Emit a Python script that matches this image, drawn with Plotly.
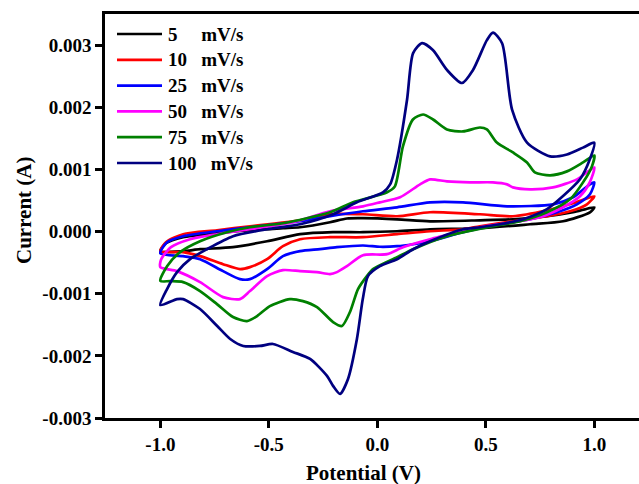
import plotly.graph_objects as go

# ---------------- data (Potential in V, Current in A) ----------------
labels = ["5\u00a0\u00a0\u00a0\u00a0\u00a0mV/s", "10\u00a0\u00a0\u00a0mV/s", "25\u00a0\u00a0\u00a0mV/s",
          "50\u00a0\u00a0\u00a0mV/s", "75\u00a0\u00a0\u00a0mV/s", "100\u00a0\u00a0\u00a0mV/s"]
colors = ["#000000", "#ff0000", "#0000ff", "#ff00ff", "#008000", "#000080"]

v_5 = [-1.0, -0.974, -0.895, -0.739, -0.587, -0.435, -0.356, -0.218, -0.140, -0.066, 0.091, 0.243, 0.473, 0.625, 0.782, 0.902, 1.0,
       0.980, 0.856, 0.704, 0.473, 0.243, 0.091, -0.066, -0.204, -0.356, -0.508, -0.665, -0.817, -0.895, -1.0]
i_5 = [-0.316e-3, -0.188e-3, -0.091e-3, -0.027e-3, 0.021e-3, 0.053e-3, 0.069e-3, 0.149e-3, 0.210e-3, 0.215e-3, 0.197e-3, 0.165e-3, 0.181e-3, 0.197e-3, 0.246e-3, 0.310e-3, 0.390e-3,
       0.310e-3, 0.165e-3, 0.117e-3, 0.053e-3, 0.037e-3, 0.005e-3, -0.011e-3, -0.011e-3, -0.043e-3, -0.156e-3, -0.252e-3, -0.284e-3, -0.316e-3, -0.316e-3]

v_10 = [-1.0, -0.974, -0.895, -0.739, -0.587, -0.356, -0.218, -0.066, 0.091, 0.243, 0.473, 0.625, 0.782, 0.902, 1.0,
        0.966, 0.888, 0.782, 0.625, 0.473, 0.395, 0.243, 0.091, -0.066, -0.218, -0.356, -0.435, -0.508, -0.587, -0.633, -0.711, -0.817, -0.895, -1.0]
i_10 = [-0.316e-3, -0.172e-3, -0.043e-3, 0.021e-3, 0.085e-3, 0.181e-3, 0.278e-3, 0.278e-3, 0.246e-3, 0.310e-3, 0.278e-3, 0.246e-3, 0.342e-3, 0.454e-3, 0.567e-3,
        0.438e-3, 0.326e-3, 0.246e-3, 0.165e-3, 0.085e-3, 0.037e-3, 0.005e-3, -0.043e-3, -0.091e-3, -0.091e-3, -0.124e-3, -0.236e-3, -0.445e-3, -0.573e-3, -0.605e-3, -0.525e-3, -0.396e-3, -0.332e-3, -0.316e-3]

v_25 = [-1.0, -0.969, -0.895, -0.739, -0.587, -0.356, -0.218, -0.066, 0.091, 0.243, 0.395, 0.598, 0.810, 0.902, 0.980, 1.0,
        0.980, 0.920, 0.828, 0.704, 0.565, 0.395, 0.243, 0.165, 0.091, 0.012, -0.066, -0.186, -0.264, -0.356, -0.435, -0.508, -0.587, -0.633, -0.711, -0.817, -0.895, -1.0]
i_25 = [-0.350e-3, -0.172e-3, -0.075e-3, 0.005e-3, 0.069e-3, 0.165e-3, 0.246e-3, 0.326e-3, 0.390e-3, 0.470e-3, 0.470e-3, 0.406e-3, 0.438e-3, 0.551e-3, 0.759e-3, 0.791e-3,
        0.599e-3, 0.438e-3, 0.310e-3, 0.197e-3, 0.117e-3, -0.011e-3, -0.156e-3, -0.204e-3, -0.236e-3, -0.245e-3, -0.225e-3, -0.252e-3, -0.284e-3, -0.316e-3, -0.396e-3, -0.605e-3, -0.766e-3, -0.766e-3, -0.637e-3, -0.445e-3, -0.396e-3, -0.350e-3]

v_50 = [-1.0, -0.996, -0.951, -0.863, -0.739, -0.587, -0.389, -0.218, -0.066, 0.012, 0.105, 0.197, 0.243, 0.321, 0.427, 0.533, 0.598, 0.625, 0.704, 0.810, 0.920, 1.0,
        0.979, 0.934, 0.856, 0.750, 0.625, 0.473, 0.395, 0.243, 0.118, 0.045, -0.066, -0.140, -0.186, -0.218, -0.278, -0.356, -0.435, -0.508, -0.587, -0.633, -0.711, -0.817, -0.923, -1.0]
i_50 = [-0.573e-3, -0.445e-3, -0.252e-3, -0.124e-3, -0.043e-3, 0.037e-3, 0.149e-3, 0.326e-3, 0.406e-3, 0.470e-3, 0.551e-3, 0.759e-3, 0.839e-3, 0.807e-3, 0.791e-3, 0.791e-3, 0.759e-3, 0.711e-3, 0.679e-3, 0.711e-3, 0.839e-3, 1.032e-3,
        0.791e-3, 0.567e-3, 0.390e-3, 0.230e-3, 0.149e-3, 0.069e-3, 0.005e-3, -0.124e-3, -0.252e-3, -0.364e-3, -0.380e-3, -0.557e-3, -0.653e-3, -0.685e-3, -0.653e-3, -0.637e-3, -0.621e-3, -0.717e-3, -0.958e-3, -1.087e-3, -1.055e-3, -0.814e-3, -0.637e-3, -0.573e-3]

v_75 = [-1.0, -0.969, -0.909, -0.817, -0.693, -0.587, -0.435, -0.218, -0.112, 0.045, 0.081, 0.118, 0.164, 0.211, 0.257, 0.321, 0.395, 0.473, 0.505, 0.551, 0.625, 0.690, 0.726, 0.796, 0.874, 0.948, 1.0,
        0.989, 0.948, 0.888, 0.782, 0.658, 0.533, 0.321, 0.165, 0.091, -0.020, -0.048, -0.089, -0.126, -0.163, -0.204, -0.278, -0.343, -0.403, -0.495, -0.554, -0.601, -0.665, -0.739, -0.817, -0.895, -0.955, -1.0]
i_75 = [-0.793e-3, -0.557e-3, -0.332e-3, -0.156e-3, -0.011e-3, 0.069e-3, 0.133e-3, 0.310e-3, 0.470e-3, 0.631e-3, 0.727e-3, 1.369e-3, 1.803e-3, 1.883e-3, 1.803e-3, 1.642e-3, 1.610e-3, 1.674e-3, 1.642e-3, 1.433e-3, 1.273e-3, 1.112e-3, 0.952e-3, 0.904e-3, 0.968e-3, 1.112e-3, 1.225e-3,
        1.048e-3, 0.791e-3, 0.518e-3, 0.310e-3, 0.165e-3, 0.085e-3, -0.075e-3, -0.284e-3, -0.413e-3, -0.605e-3, -0.717e-3, -0.926e-3, -1.295e-3, -1.520e-3, -1.456e-3, -1.215e-3, -1.119e-3, -1.087e-3, -1.199e-3, -1.360e-3, -1.440e-3, -1.376e-3, -1.167e-3, -0.958e-3, -0.814e-3, -0.798e-3, -0.793e-3]

v_100 = [-1.0, -0.969, -0.923, -0.863, -0.785, -0.665, -0.508, -0.356, -0.204, -0.094, 0.026, 0.059, 0.091, 0.137, 0.165, 0.206, 0.256, 0.321, 0.390, 0.441, 0.505, 0.533, 0.575, 0.621, 0.690, 0.796, 0.874, 0.948, 1.0,
         0.979, 0.934, 0.856, 0.782, 0.671, 0.565, 0.473, 0.395, 0.243, 0.165, 0.091, 0.012, -0.043, -0.067, -0.094, -0.135, -0.172, -0.204, -0.232, -0.310, -0.389, -0.481, -0.541, -0.618, -0.678, -0.738, -0.817, -0.895, -0.923, -1.0]
i_100 = [-1.183e-3, -0.925e-3, -0.653e-3, -0.444e-3, -0.284e-3, -0.075e-3, 0.037e-3, 0.117e-3, 0.278e-3, 0.470e-3, 0.631e-3, 0.759e-3, 1.160e-3, 2.120e-3, 2.870e-3, 3.030e-3, 2.920e-3, 2.600e-3, 2.390e-3, 2.600e-3, 3.080e-3, 3.200e-3, 3.030e-3, 1.960e-3, 1.430e-3, 1.210e-3, 1.240e-3, 1.350e-3, 1.430e-3,
         1.160e-3, 0.840e-3, 0.570e-3, 0.360e-3, 0.198e-3, 0.117e-3, 0.069e-3, 0.037e-3, -0.156e-3, -0.284e-3, -0.445e-3, -0.557e-3, -0.717e-3, -1.087e-3, -1.729e-3, -2.371e-3, -2.612e-3, -2.483e-3, -2.323e-3, -2.050e-3, -1.937e-3, -1.809e-3, -1.841e-3, -1.841e-3, -1.729e-3, -1.520e-3, -1.247e-3, -1.087e-3, -1.087e-3, -1.183e-3]

x_ticks = [-1.0, -0.5, 0.0, 0.5, 1.0]
x_ticktext = ["-1.0", "-0.5", "0.0", "0.5", "1.0"]
y_ticks = [-0.003, -0.002, -0.001, 0.0, 0.001, 0.002, 0.003]
y_ticktext = ["-0.003", "-0.002", "-0.001", "0.000", "0.001", "0.002", "0.003"]

# ---------------- figure ----------------
FONT = "Liberation Serif"
W, H = 639, 484
ML, MR, MT, MB = 105, 0, 14, 66
PW, PH = W - ML - MR, H - MT - MB

def px_x(p):  # pixel x -> paper x
    return (p - ML) / PW

def px_y(p):  # pixel y -> paper y
    return (H - MB - p) / PH

fig = go.Figure()
for lab, col, xs, ys in zip(labels, colors,
                            [v_5, v_10, v_25, v_50, v_75, v_100],
                            [i_5, i_10, i_25, i_50, i_75, i_100]):
    fig.add_trace(go.Scatter(x=xs, y=ys, mode="lines", name=lab, showlegend=False,
                             line=dict(color=col, width=2.7, shape="spline", smoothing=0.7)))

# hand-built legend (long line samples like the reference)
shapes, annotations = [], []
for k, (lab, col) in enumerate(zip(labels, colors)):
    yy = px_y(34 + k * 25.8)
    shapes.append(dict(type="line", xref="paper", yref="paper", x0=px_x(117), x1=px_x(162),
                       y0=yy, y1=yy, line=dict(color=col, width=2.7)))
    annotations.append(dict(text=lab, xref="paper", yref="paper", x=px_x(166), y=yy,
                            xanchor="left", yanchor="middle", showarrow=False,
                            font=dict(family=FONT, size=19, color="black", weight="bold")))

annotations += [
    dict(text="Potential (V)", xref="paper", yref="paper", x=px_x(363), y=px_y(473),
         xanchor="center", yanchor="middle", showarrow=False,
         font=dict(family=FONT, size=21, color="black", weight="bold")),
    dict(text="Current (A)", xref="paper", yref="paper", x=px_x(24), y=px_y(210), textangle=-90,
         xanchor="center", yanchor="middle", showarrow=False,
         font=dict(family=FONT, size=21, color="black", weight="bold")),
]

axis_common = dict(showgrid=False, zeroline=False, showline=True, linecolor="black", linewidth=2.5,
                   ticks="outside", ticklen=7, tickwidth=2.5, tickcolor="black",
                   tickfont=dict(family=FONT, size=19, color="black", weight="bold"))

fig.update_layout(
    width=W, height=H,
    margin=dict(l=ML, r=MR, t=MT, b=MB),
    plot_bgcolor="white", paper_bgcolor="white",
    xaxis=dict(range=[-1.255, 1.206], tickvals=x_ticks, ticktext=x_ticktext, mirror=True, **axis_common),
    yaxis=dict(range=[-0.003, 0.0035], tickvals=y_ticks, ticktext=y_ticktext, mirror=False, **axis_common),
    showlegend=False,
    shapes=shapes,
    annotations=annotations,
)

fig.write_html("out.html", config={"displayModeBar": False},
               post_script="document.body.style.margin='0px';")
